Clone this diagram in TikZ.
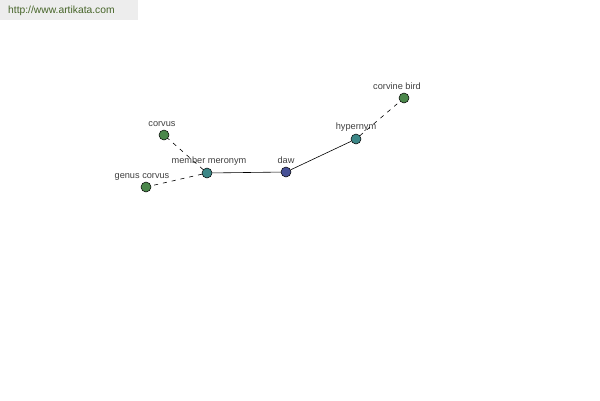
\documentclass[tikz,border=0pt]{standalone}
\usepackage{fontspec}
\setmainfont{Liberation Sans}
\begin{document}
\begin{tikzpicture}[x=1pt,y=-1pt,
  dot/.style={circle,draw=black,line width=0.5pt,minimum size=10pt,inner sep=0pt},
  lab/.style={font=\fontsize{9.2}{11}\selectfont,text=black!75,inner sep=0pt},
  rel/.style={draw=black,line width=0.6pt},
  weak/.style={draw=black,line width=0.6pt,dash pattern=on 4pt off 5pt}]
\useasboundingbox (0,0) rectangle (600,400);
\fill[white] (0,0) rectangle (600,400);
\node[fill=black!7,minimum width=138pt,minimum height=20pt,inner sep=0pt,anchor=north west] (hdr) at (0,0) {};
\node[font=\fontsize{10.3}{12}\selectfont,text={rgb,255:red,70;green,100;blue,40},anchor=west,inner sep=0pt] (url) at (8,11) {http://www.artikata.com};
\node[dot,fill={rgb,255:red,70;green,80;blue,150}] (daw) at (286,172) {};
\node[dot,fill={rgb,255:red,60;green,135;blue,135}] (mm) at (207,173) {};
\node[dot,fill={rgb,255:red,60;green,135;blue,135}] (hyp) at (356,139) {};
\node[dot,fill={rgb,255:red,75;green,135;blue,75}] (cb) at (404,98) {};
\node[dot,fill={rgb,255:red,75;green,135;blue,75}] (cor) at (164,135) {};
\node[dot,fill={rgb,255:red,75;green,135;blue,75}] (gc) at (146,187) {};
\node[lab] (ldaw) at (286,160.5) {daw};
\node[lab] (lmm) at (209,161.5) {member meronym};
\node[lab] (lhyp) at (356,127.5) {hypernym};
\node[lab] (lcb) at (397,86.5) {corvine bird};
\node[lab] (lcor) at (162,124.5) {corvus};
\node[lab] (lgc) at (142,176.5) {genus corvus};
\draw[rel] (daw) -- (mm);
\draw[rel] (daw) -- (hyp);
\draw[weak] (hyp) -- (cb);
\draw[weak] (mm) -- (cor);
\draw[weak] (mm) -- (gc);
\end{tikzpicture}
\end{document}
